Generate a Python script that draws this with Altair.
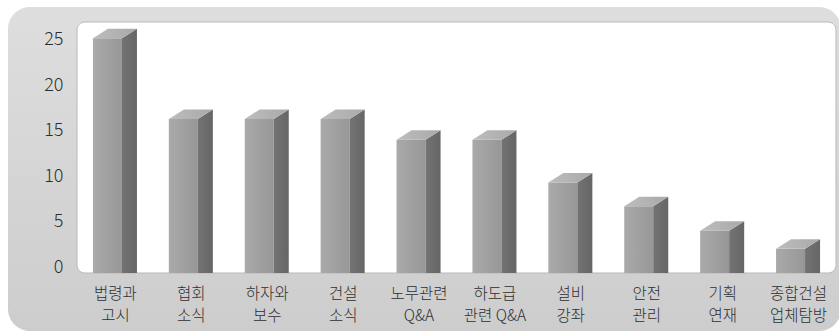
import json
import altair as alt
import pandas as pd

# ---- data ----
categories = ["법령과\n고시", "협회\n소식", "하자와\n보수", "건설\n소식", "노무관련\nQ&A",
              "하도급\n관련 Q&A", "설비\n강좌", "안전\n관리", "기획\n연재", "종합건설\n업체탐방"]
values = [25.2, 16.3, 16.3, 16.3, 14.0, 14.0, 9.3, 6.7, 4.0, 2.0]
y_ticks = [0, 5, 10, 15, 20, 25]

# ---- 3D bar geometry (style, in axis units) ----
Y_MIN, Y_MAX = -0.66, 26.98
FL, FR, SR = -0.29, 0.092, 0.29      # front-left, front-right, side-right offsets
DX, DY = SR - FR, 1.05               # depth offsets
FLOOR = Y_MIN

idx = list(range(len(categories)))
front_df = pd.DataFrame({"i": idx, "cat": categories, "v": values})

side_rows, top_rows = [], []
for i, v in zip(idx, values):
    side_rows += [{"bar": i, "x": i + FR, "lo": FLOOR, "hi": v},
                  {"bar": i, "x": i + SR, "lo": FLOOR, "hi": v + DY}]
    top_rows += [{"bar": i, "x": i + FL, "lo": v, "hi": v},
                 {"bar": i, "x": i + FL + DX, "lo": v, "hi": v + DY},
                 {"bar": i, "x": i + FR, "lo": v, "hi": v + DY},
                 {"bar": i, "x": i + SR, "lo": v + DY, "hi": v + DY}]
side_df = pd.DataFrame(side_rows)
top_df = pd.DataFrame(top_rows)

W, H = 759, 251
FONT = "Noto Sans CJK KR"

xscale = alt.Scale(domain=[-0.5, len(categories) - 0.5], nice=False, zero=False)
yscale = alt.Scale(domain=[Y_MIN, Y_MAX], nice=False, zero=False)

label_arr = json.dumps([c.replace("\n", "|") for c in categories], ensure_ascii=False)
x_axis = alt.Axis(values=idx, labelExpr=f"split({label_arr}[datum.value], '|')",
                  title=None, domain=False, ticks=False, grid=False,
                  labelFont=FONT, labelFontSize=15.5, labelFontWeight=300, labelColor="#2e2e2e",
                  labelLineHeight=22.5, labelPadding=13, labelOverlap=False,
                  labelFlush=False, labelBound=False, zindex=1)
y_axis = alt.Axis(values=y_ticks, title=None, domain=False, ticks=False, grid=False,
                  labelFont=FONT, labelFontSize=18, labelFontWeight=300, labelColor="#2e2e2e",
                  labelPadding=14, zindex=1)

def grad(c1, c2, horizontal=True):
    return alt.Gradient(gradient="linear",
                        stops=[alt.GradientStop(color=c1, offset=0),
                               alt.GradientStop(color=c2, offset=1)],
                        x1=0, x2=1 if horizontal else 0, y1=0, y2=0 if horizontal else 1)

one = pd.DataFrame({"k": [0]})
frame = alt.Chart(one).mark_rect(cornerRadius=22, fill=grad("#dedede", "#cdcdcd", False)).encode(
    x=alt.value(-69), x2=alt.value(764), y=alt.value(-15), y2=alt.value(309))
panel = alt.Chart(one).mark_rect(cornerRadius=8, fill="white", stroke="#b9b9b9", strokeWidth=1).encode(
    x=alt.value(0), x2=alt.value(W), y=alt.value(0), y2=alt.value(H))

front = alt.Chart(front_df).transform_calculate(
    x1=f"datum.i + ({FL})", x2=f"datum.i + ({FR})", floor=f"{FLOOR}"
).mark_rect(fill=grad("#aaaaaa", "#979797")).encode(
    x=alt.X("x1:Q", scale=xscale, axis=x_axis),
    x2="x2:Q",
    y=alt.Y("v:Q", scale=yscale, axis=y_axis),
    y2="floor:Q")

side = alt.Chart(side_df).mark_area(fill=grad("#737373", "#666666")).encode(
    x=alt.X("x:Q", scale=xscale, axis=x_axis),
    y=alt.Y("hi:Q", scale=yscale, axis=y_axis),
    y2="lo:Q", detail="bar:N")

top = alt.Chart(top_df).mark_area(fill=grad("#bdbdbd", "#a9a9a9")).encode(
    x=alt.X("x:Q", scale=xscale, axis=x_axis),
    y=alt.Y("hi:Q", scale=yscale, axis=y_axis),
    y2="lo:Q", detail="bar:N")

chart = alt.layer(frame, panel, front, side, top).properties(
    width=W, height=H,
    padding={"left": 77, "top": 22, "right": 3, "bottom": 60},
    autosize=alt.AutoSizeParams(type="none"),
    background="white",
).configure_view(strokeWidth=0)

chart.save("out.html", embed_options={"renderer": "svg", "actions": False})
